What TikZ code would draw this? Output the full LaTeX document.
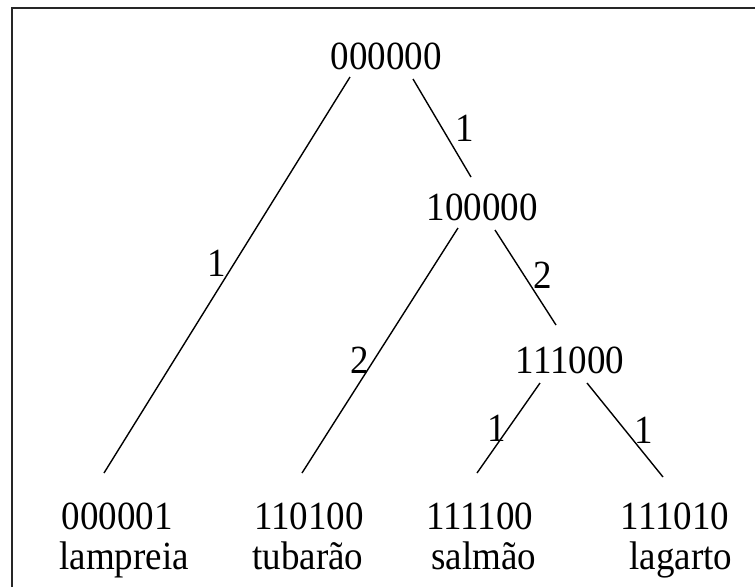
\documentclass[tikz,border=0pt]{standalone}
\usepackage{fontspec}
\setmainfont{Liberation Serif}
\usetikzlibrary{calc}
\newcommand{\tallt}[1]{\scalebox{1}[1.08]{#1}}
\begin{document}
\begin{tikzpicture}[x=1pt,y=-1pt,
  lbl/.style={inner sep=0pt,anchor=base,font=\fontsize{37}{40}\selectfont},
  edge/.style={line width=1.4pt,black},
  frame/.style={line width=2.2pt,black!85}]
\useasboundingbox (0,0) rectangle (755,587);
\fill[white] (0,0) rectangle (755,587);
\coordinate (fl) at (12,587);
\coordinate (fc) at (12,8);
\coordinate (fr) at (755,8);
\draw[frame] (fl) -- (fc) -- (fr);
% tree nodes
\node[lbl] (root) at (386,69) {\tallt{000000}};
\node[lbl] (n100) at (482,220) {\tallt{100000}};
\node[lbl] (n111) at (570,373) {\tallt{111000}};
\node[lbl] (b1) at (117,529) {\tallt{000001}};
\node[lbl] (b2) at (309,529) {\tallt{110100}};
\node[lbl] (b3) at (480,529) {\tallt{111100}};
\node[lbl] (b4) at (675,529) {\tallt{111010}};
\node[lbl] (l1) at (124,569) {\tallt{lampreia}};
\node[lbl] (l2) at (308,569) {\tallt{tubarão}};
\node[lbl] (l3) at (484,569) {\tallt{salmão}};
\node[lbl] (l4) at (681,569) {\tallt{lagarto}};
% edges
\draw[edge] ($(root.base)+(-36,8)$) -- ($(b1.base)+(-13,-56)$);
\draw[edge] ($(root.base)+(27,10)$) -- ($(n100.base)+(-11,-43)$);
\draw[edge] ($(n100.base)+(-24,8)$) -- ($(b2.base)+(-7,-56)$);
\draw[edge] ($(n100.base)+(13,10)$) -- ($(n111.base)+(-14,-48)$);
\draw[edge] ($(n111.base)+(-30,10)$) -- ($(b3.base)+(-3,-56)$);
\draw[edge] ($(n111.base)+(17,10)$) -- ($(b4.base)+(-12,-52)$);
% edge weights
\node[lbl] (w1) at (465,141) {\tallt{1}};
\node[lbl] (w2) at (217,276) {\tallt{1}};
\node[lbl] (w3) at (360,373) {\tallt{2}};
\node[lbl] (w4) at (543,288) {\tallt{2}};
\node[lbl] (w5) at (497,441) {\tallt{1}};
\node[lbl] (w6) at (644,443) {\tallt{1}};
\end{tikzpicture}
\end{document}
